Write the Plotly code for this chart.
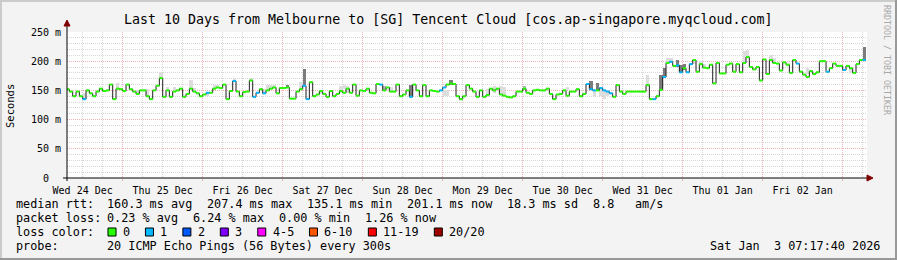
import plotly.graph_objects as go
from datetime import datetime, timedelta

# ---------------- data ----------------
TITLE = "Last 10 Days from Melbourne to [SG] Tencent Cloud [cos.ap-singapore.myqcloud.com]"
END_TIME = datetime(2026, 1, 3, 7, 17, 40)
START_TIME = END_TIME - timedelta(days=10)
FIRST_BIN = datetime(2025, 12, 24, 7, 0, 0)   # hourly consolidated bins

median_rtt_ms = [
    152, 148, 140, 148, 140, 135, 150, 145, 140, 148,
    153, 149, 150, 160, 135, 153, 152, 149, 160, 152,
    148, 144, 150, 150, 140, 135, 150, 158, 171, 139,
    150, 139, 148, 150, 153, 139, 144, 153, 148, 145,
    140, 143, 146, 146, 153, 155, 154, 160, 135, 149,
    166, 148, 140, 147, 148, 167, 139, 146, 152, 145,
    150, 153, 155, 145, 154, 154, 155, 136, 136, 148,
    152, 158, 135, 164, 140, 143, 149, 144, 139, 149,
    140, 144, 149, 146, 153, 146, 160, 141, 150, 149,
    153, 146, 145, 161, 160, 150, 155, 148, 148, 160,
    140, 143, 150, 139, 160, 150, 140, 159, 140, 150,
    149, 148, 150, 155, 160, 162, 161, 140, 135, 140,
    159, 153, 148, 139, 150, 139, 142, 153, 150, 153,
    143, 141, 139, 138, 140, 148, 148, 153, 146, 144,
    150, 151, 150, 150, 153, 144, 135, 143, 144, 150,
    141, 148, 148, 152, 140, 144, 161, 152, 150, 150,
    154, 150, 148, 145, 139, 159, 148, 144, 148, 148,
    148, 148, 148, 148, 159, 135, 135, 140, 151, 173,
    197, 199, 192, 193, 181, 188, 181, 195, 202, 182,
    195, 189, 188, 194, 162, 197, 179, 179, 194, 196,
    182, 195, 181, 197, 207, 190, 186, 190, 167, 203,
    178, 202, 197, 196, 184, 198, 194, 180, 202, 196,
    182, 177, 173, 183, 178, 181, 200, 200, 182, 188,
    196, 192, 192, 185, 192, 188, 180, 195, 202, 202,
]

# hours in which 1 of 20 pings was lost (all other hours: 0 lost)
loss_one_hours = [5, 42, 50, 56, 57, 59, 71, 72, 94, 103, 112, 113,
                  156, 157, 158, 160, 161, 162, 163, 176, 179,
                  181, 183, 184, 186, 187, 219, 228, 233, 239]

# visible "smoke" (ping spread) per hour
smoke_hours = [5, 6, 15, 21, 24, 28, 30, 32, 37, 38, 42, 44, 45, 50, 55, 59,
               60, 61, 62, 66, 70, 71, 76, 82, 83, 84, 95, 97, 103, 113, 114, 115,
               126, 128, 130, 131, 137, 150, 157, 158, 159, 160, 161, 162, 174, 178, 179,
               180, 181, 183, 184, 185, 188, 190, 191, 203, 204, 211, 212, 222, 235, 239]
smoke_low_ms = [135, 148, 153, 144, 140, 171, 150, 150, 153, 148, 141, 153, 155, 166, 167, 145,
                150, 153, 155, 155, 152, 158, 143, 146, 153, 146, 150, 148, 139, 140, 140, 160,
                139, 145, 143, 141, 150, 150, 150, 138, 150, 140, 136, 140, 159, 151, 173,
                197, 199, 190, 181, 185, 195, 195, 189, 197, 207, 202, 197, 178, 180, 202]
smoke_high_ms = [146, 153, 163, 150, 152, 181, 156, 156, 167, 154, 148, 160, 160, 172, 171, 152,
                 160, 160, 160, 160, 165, 187, 150, 158, 160, 158, 157, 155, 160, 150, 150, 167,
                 153, 158, 158, 155, 158, 156, 166, 150, 163, 154, 150, 150, 176, 176, 188,
                 206, 205, 202, 193, 196, 202, 200, 196, 218, 220, 210, 206, 188, 188, 225]
smoke_shade = ["l", "l", "l", "l", "l", "l", "l", "l", "l", "l", "l", "l", "l", "l", "l", "l",
               "l", "l", "l", "d", "l", "d", "l", "l", "l", "l", "m", "l", "d", "l", "l", "d",
               "l", "l", "l", "l", "m", "l", "d", "l", "d", "l", "l", "l", "l", "d", "d",
               "l", "l", "d", "d", "d", "l", "l", "l", "l", "l", "l", "l", "l", "l", "d"]

day_ticks = [datetime(2025, 12, 25) + timedelta(days=k) for k in range(10)]
day_labels = ["Wed 24 Dec", "Thu 25 Dec", "Fri 26 Dec", "Sat 27 Dec", "Sun 28 Dec",
              "Mon 29 Dec", "Tue 30 Dec", "Wed 31 Dec", "Thu 01 Jan", "Fri 02 Jan"]
y_ticks = [0, 50, 100, 150, 200, 250]
y_labels = ["0\u00a0\u00a0", "50 m", "100 m", "150 m", "200 m", "250 m"]

rtt_label = "median rtt:"
rtt_stats = ["160.3 ms avg", "207.4 ms max", "135.1 ms min", "201.1 ms now", "18.3 ms sd", "8.8", "am/s"]
loss_label = "packet loss:"
loss_stats = ["0.23 % avg", "6.24 % max", "0.00 % min", "1.26 % now"]
loss_color_label = "loss color:"
loss_classes = ["0", "1", "2", "3", "4-5", "6-10", "11-19", "20/20"]
loss_colors = ["#26ff00", "#00b8ff", "#0059ff", "#7e00ff", "#ff00ff", "#ff5500", "#ff0000", "#a10000"]
probe_label = "probe:"
probe_text = "20 ICMP Echo Pings (56 Bytes) every 300s"
stamp_text = "Sat Jan\u00a0\u00a03 07:17:40 2026"
credit_text = "RRDTOOL / TOBI OETIKER"

# ---------------- layout geometry (pixels) ----------------
W, H = 897, 260
PL, PR, PT, PB = 67, 867, 32, 178
MONO = "DejaVu Sans Mono"
SHADE = {"l": "#dddddd", "m": "#b4b4b4", "d": "#7c7c7c"}


def px(x):
    return (x - PL) / (PR - PL)


def py(y):
    return (PB - y) / (PB - PT)


HOUR = timedelta(hours=1)
bin_start = [FIRST_BIN + i * HOUR for i in range(len(median_rtt_ms))]
loss_count = [1 if i in loss_one_hours else 0 for i in range(len(median_rtt_ms))]

fig = go.Figure()

# smoke
for shade in ["l", "m", "d"]:
    idx = [k for k, s in enumerate(smoke_shade) if s == shade]
    fig.add_trace(go.Bar(
        x=[bin_start[smoke_hours[k]] + HOUR / 2 for k in idx],
        y=[smoke_high_ms[k] - smoke_low_ms[k] for k in idx],
        base=[smoke_low_ms[k] for k in idx],
        width=3600000 * 0.98,
        marker=dict(color=SHADE[shade], line=dict(width=0)),
        hoverinfo="skip", showlegend=False))

# median step line
fig.add_trace(go.Scatter(
    x=bin_start + [bin_start[-1] + HOUR],
    y=median_rtt_ms + [median_rtt_ms[-1]],
    mode="lines", line=dict(color="#202020", width=1, shape="hv"),
    hoverinfo="skip", showlegend=False))

# loss-coloured median segments
for cls in sorted(set(loss_count)):
    xs, ys = [], []
    for i, v in enumerate(median_rtt_ms):
        if loss_count[i] == cls:
            xs += [bin_start[i], bin_start[i] + HOUR, None]
            ys += [v, v, None]
    fig.add_trace(go.Scatter(
        x=xs, y=ys, mode="lines",
        line=dict(color=loss_colors[cls], width=2),
        connectgaps=False, hoverinfo="skip", showlegend=False))

ann = []


def note(x, y, t, size, anchor="left", angle=0, color="#000000"):
    ann.append(dict(xref="paper", yref="paper", x=px(x), y=py(y),
                    text=t.replace(" ", "\u00a0"), showarrow=False, textangle=angle,
                    xanchor=anchor, yanchor="middle", borderpad=0,
                    font=dict(family=MONO, size=size, color=color)))


note(448, 19, TITLE, 13.3, anchor="center")
note(10, 106, "Seconds", 10.5, anchor="center", angle=-90)
note(887, 60, credit_text, 8.3, anchor="center", angle=90, color="#a8a8a8")


def leg(x, y, t, anchor="left"):
    note(x, y, t, 11.8, anchor=anchor)


ROW = [204, 218, 232, 246]
leg(15, ROW[0], rtt_label)
for xx, t in zip([106, 206, 306, 406, 506, 592, 634], rtt_stats):
    leg(xx, ROW[0], t)
leg(15, ROW[1], loss_label)
for xx, t in zip([106, 192, 278, 364], loss_stats):
    leg(xx, ROW[1], t)
leg(15, ROW[2], loss_color_label)
leg(15, ROW[3], probe_label)
leg(106, ROW[3], probe_text)
leg(881, ROW[3], stamp_text, anchor="right")

shapes = []
bx = 108
for lab, col in zip(loss_classes, loss_colors):
    shapes.append(dict(type="rect", xref="paper", yref="paper",
                       x0=px(bx), x1=px(bx + 8), y0=py(ROW[2] + 4), y1=py(ROW[2] - 4),
                       fillcolor=col, line=dict(color="#000000", width=1)))
    leg(bx + 14, ROW[2], lab)
    bx += 30.3 + 7.14 * len(lab)

# 3D frame
shapes += [
    dict(type="rect", xref="paper", yref="paper", x0=px(0), x1=px(W), y0=py(0), y1=py(2),
         fillcolor="#cbcbcb", line=dict(width=0), layer="below"),
    dict(type="rect", xref="paper", yref="paper", x0=px(0), x1=px(2), y0=py(0), y1=py(H),
         fillcolor="#cbcbcb", line=dict(width=0), layer="below"),
    dict(type="rect", xref="paper", yref="paper", x0=px(0), x1=px(W), y0=py(H - 2), y1=py(H),
         fillcolor="#999999", line=dict(width=0), layer="below"),
    dict(type="rect", xref="paper", yref="paper", x0=px(W - 2), x1=px(W), y0=py(0), y1=py(H),
         fillcolor="#999999", line=dict(width=0), layer="below"),
]
# axes with arrows
shapes += [
    dict(type="line", xref="paper", yref="paper", x0=px(63), x1=px(868), y0=0, y1=0,
         line=dict(color="#000000", width=1)),
    dict(type="line", xref="paper", yref="paper", x0=0, x1=0, y0=py(181), y1=py(25),
         line=dict(color="#000000", width=1)),
    dict(type="path", xref="paper", yref="paper",
         path=f"M {px(867)} {py(175)} L {px(873)} {py(178)} L {px(867)} {py(181)} Z",
         fillcolor="#800000", line=dict(color="#800000", width=1)),
    dict(type="path", xref="paper", yref="paper",
         path=f"M {px(64)} {py(26)} L {px(67)} {py(20)} L {px(70)} {py(26)} Z",
         fillcolor="#800000", line=dict(color="#800000", width=1)),
]

fig.update_layout(
    width=W, height=H,
    margin=dict(l=PL, r=W - PR, t=PT, b=H - PB, pad=0),
    paper_bgcolor="#f3f3f3", plot_bgcolor="#ffffff",
    barmode="overlay", bargap=0,
    showlegend=False,
    annotations=ann, shapes=shapes,
    xaxis=dict(
        type="date", range=[START_TIME, END_TIME],
        tickmode="array", tickvals=day_ticks, ticktext=day_labels,
        ticklabelshift=-40, ticklabelstandoff=1,
        ticks="outside", ticklen=2, tickcolor="#f0b0b0",
        tickfont=dict(family=MONO, size=10, color="#000000"),
        showgrid=True, gridcolor="#f2b4b4", griddash="1px,1px", gridwidth=1,
        minor=dict(dtick=6 * 3600 * 1000, tick0=day_ticks[0], showgrid=True,
                   gridcolor="#d6d6d6", griddash="1px,1px", gridwidth=1),
        zeroline=False, showline=False, fixedrange=True,
    ),
    yaxis=dict(
        range=[0, 250],
        tickmode="array", tickvals=y_ticks, ticktext=y_labels,
        ticks="", ticklabelstandoff=5,
        tickfont=dict(family=MONO, size=10, color="#000000"),
        showgrid=True, gridcolor="#f2b4b4", griddash="1px,1px", gridwidth=1,
        minor=dict(dtick=10, tick0=0, showgrid=True,
                   gridcolor="#d6d6d6", griddash="1px,1px", gridwidth=1),
        zeroline=False, showline=False, fixedrange=True,
    ),
)

fig.write_html("out.html", config={"displayModeBar": False})
